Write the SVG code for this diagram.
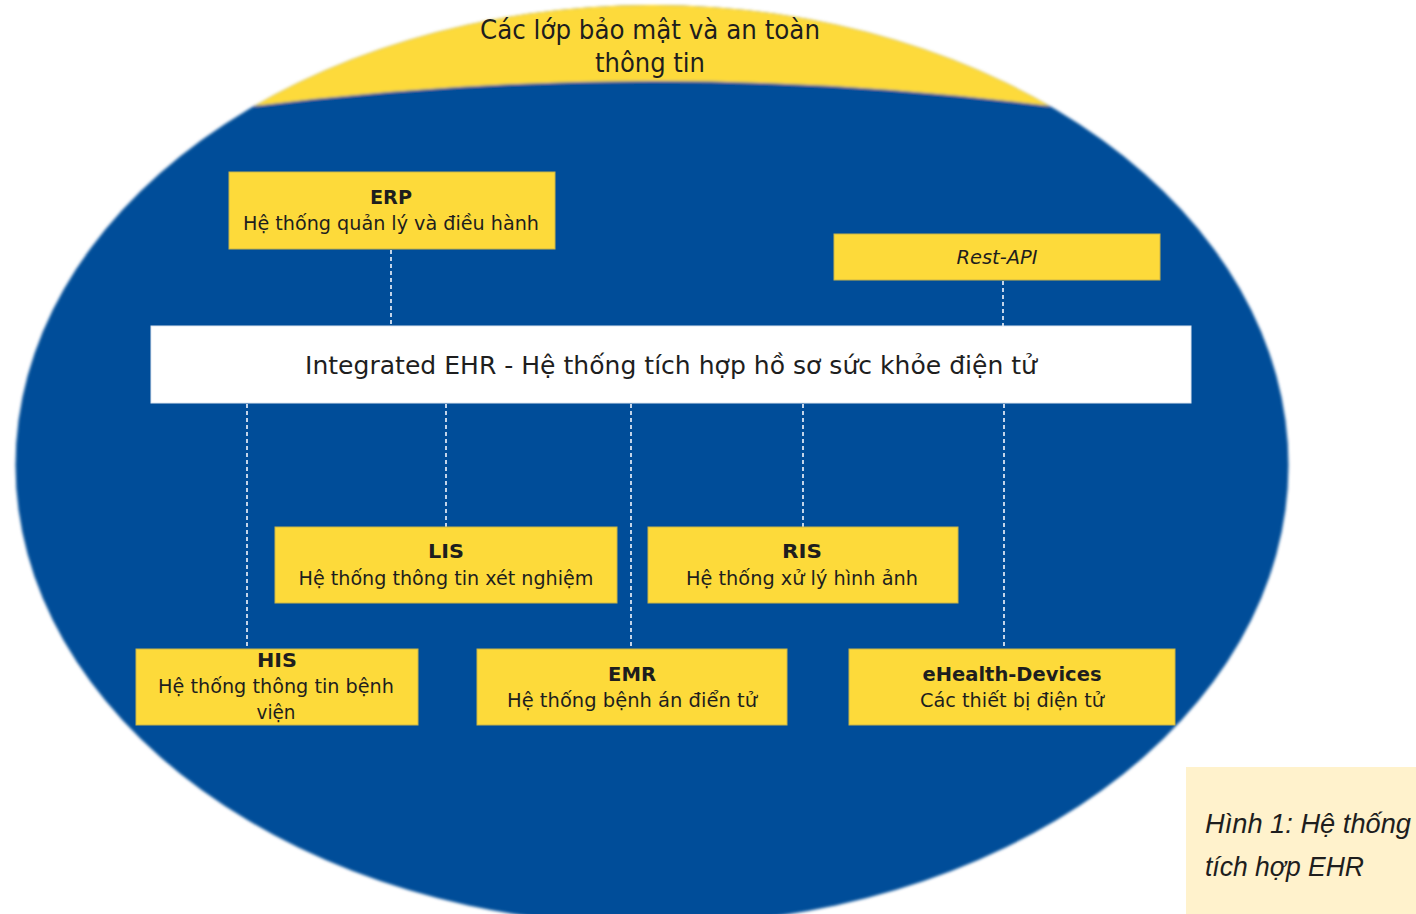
<svg xmlns="http://www.w3.org/2000/svg" width="1416" height="914" viewBox="0 0 1416 914">
  <style>
    .box { fill: #FDDA3A; stroke: #C9B548; stroke-width: 1; }
    .bar { fill: #FFFFFF; stroke: #DDE6F0; stroke-width: 1; }
    .t { font-family: "DejaVu Sans", Verdana, sans-serif; fill: #1E1E1E; text-anchor: middle; }
    .ttl { font-size: 19px; font-weight: bold; }
    .sub { font-size: 19px; }
    .cap { font-family: "Liberation Sans", Arial, sans-serif; font-style: italic; font-size: 27px; fill: #1E1E1E; }
    .head { font-family: "DejaVu Sans", Verdana, sans-serif; font-size: 26px; fill: #1E1E1E; text-anchor: middle; }
    .conn line { stroke: #E4ECF7; stroke-width: 1.7; stroke-dasharray: 4 3; }
  </style>
  <defs>
    <filter id="soft" x="-5%" y="-5%" width="110%" height="110%">
      <feGaussianBlur stdDeviation="1.6"/>
    </filter>
    <clipPath id="ellClip">
      <ellipse cx="652" cy="465" rx="636.5" ry="460"/>
    </clipPath>
  </defs>
  <rect width="1416" height="914" fill="#FFFFFF"/>

  <g id="security-layer" filter="url(#soft)">
    <ellipse cx="652" cy="465" rx="636.5" ry="460" fill="#004D99"/>
    <path d="M 0 0 L 1416 0 L 1416 106 L 1049 106 Q 652 56 255 106 L 0 106 Z" fill="#FDDA3A" clip-path="url(#ellClip)"/>
  </g>
  <g id="security-label">
    <text class="head" x="650" y="39" textLength="340" lengthAdjust="spacingAndGlyphs">Các lớp bảo mật và an toàn</text>
    <text class="head" x="650" y="72" textLength="110" lengthAdjust="spacingAndGlyphs">thông tin</text>
  </g>

  <g id="connectors" class="conn">
    <line x1="391" y1="250" x2="391" y2="326"/>
    <line x1="1003" y1="281" x2="1003" y2="326"/>
    <line x1="247" y1="404" x2="247" y2="649"/>
    <line x1="446" y1="404" x2="446" y2="527"/>
    <line x1="631" y1="404" x2="631" y2="649"/>
    <line x1="803" y1="404" x2="803" y2="527"/>
    <line x1="1004" y1="404" x2="1004" y2="649"/>
  </g>

  <g id="erp">
    <rect class="box" x="229" y="172" width="326" height="77"/>
    <text class="t ttl" x="391" y="204" textLength="42" lengthAdjust="spacingAndGlyphs">ERP</text>
    <text class="t sub" x="391" y="230" textLength="296" lengthAdjust="spacingAndGlyphs">Hệ thống quản lý và điều hành</text>
  </g>

  <g id="rest-api">
    <rect class="box" x="834" y="234" width="326" height="46"/>
    <text class="t sub" x="997" y="264" font-style="italic" textLength="81" lengthAdjust="spacingAndGlyphs">Rest-API</text>
  </g>

  <g id="integrated-ehr">
    <rect class="bar" x="151" y="326" width="1040" height="77"/>
    <text class="t" x="671" y="374" font-size="25" textLength="732" lengthAdjust="spacingAndGlyphs">Integrated EHR - Hệ thống tích hợp hồ sơ sức khỏe điện tử</text>
  </g>

  <g id="lis">
    <rect class="box" x="275" y="527" width="342" height="76"/>
    <text class="t ttl" x="446" y="558" textLength="36" lengthAdjust="spacingAndGlyphs">LIS</text>
    <text class="t sub" x="446" y="585" textLength="295" lengthAdjust="spacingAndGlyphs">Hệ thống thông tin xét nghiệm</text>
  </g>

  <g id="ris">
    <rect class="box" x="648" y="527" width="310" height="76"/>
    <text class="t ttl" x="802" y="558" textLength="40" lengthAdjust="spacingAndGlyphs">RIS</text>
    <text class="t sub" x="802" y="585" textLength="232" lengthAdjust="spacingAndGlyphs">Hệ thống xử lý hình ảnh</text>
  </g>

  <g id="his">
    <rect class="box" x="136" y="649" width="282" height="76"/>
    <text class="t ttl" x="277" y="667" textLength="40" lengthAdjust="spacingAndGlyphs">HIS</text>
    <text class="t sub" x="276" y="693" textLength="236" lengthAdjust="spacingAndGlyphs">Hệ thống thông tin bệnh</text>
    <text class="t sub" x="276" y="719" textLength="39" lengthAdjust="spacingAndGlyphs">viện</text>
  </g>

  <g id="emr">
    <rect class="box" x="477" y="649" width="310" height="76"/>
    <text class="t ttl" x="632" y="681" textLength="48" lengthAdjust="spacingAndGlyphs">EMR</text>
    <text class="t sub" x="632" y="707" textLength="250" lengthAdjust="spacingAndGlyphs">Hệ thống bệnh án điển tử</text>
  </g>

  <g id="ehealth-devices">
    <rect class="box" x="849" y="649" width="326" height="76"/>
    <text class="t ttl" x="1012" y="681" textLength="179" lengthAdjust="spacingAndGlyphs">eHealth-Devices</text>
    <text class="t sub" x="1012" y="707" textLength="184" lengthAdjust="spacingAndGlyphs">Các thiết bị điện tử</text>
  </g>

  <g id="caption">
    <rect x="1186" y="767" width="230" height="147" fill="#FFF2CC"/>
    <text class="cap" x="1205" y="833" textLength="206" lengthAdjust="spacingAndGlyphs">Hình 1: Hệ thống</text>
    <text class="cap" x="1205" y="876" textLength="159" lengthAdjust="spacingAndGlyphs">tích hợp EHR</text>
  </g>
</svg>
